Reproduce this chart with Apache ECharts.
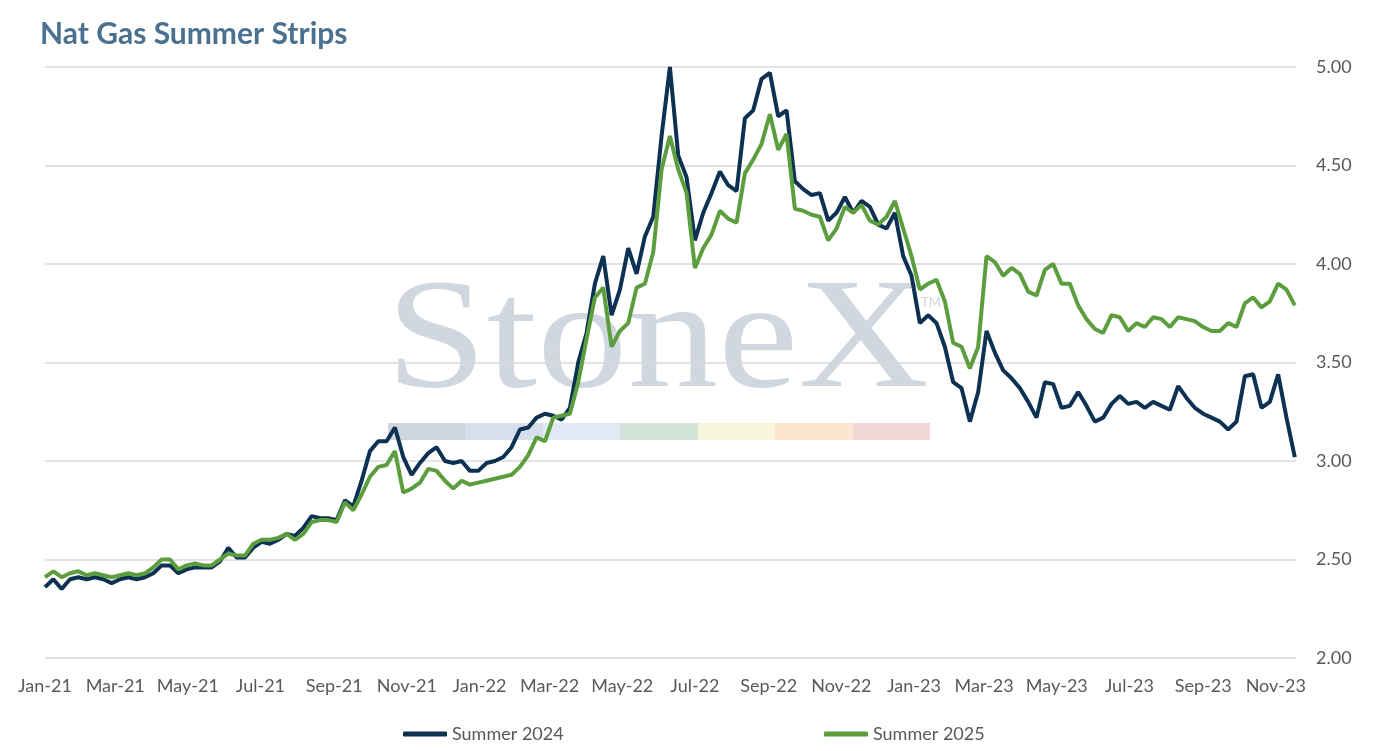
<!DOCTYPE html>
<html>
<head>
<meta charset="utf-8">
<title>Nat Gas Summer Strips</title>
<script src="https://cdn.jsdelivr.net/npm/echarts@6/dist/echarts.min.js"></script>
<style>
  html, body { margin: 0; padding: 0; background: #fff; }
  #chart { width: 1380px; height: 751px; }
</style>
</head>
<body>
<div id="chart"></div>
<script>
// weekly closes, first point 2021-01-01, one value per week
var startDate = [2021, 0, 1];
var endDate = [2023, 10, 18];

var summer2024 = [
  2.36, 2.40, 2.35, 2.40, 2.41, 2.40, 2.41, 2.40, 2.38, 2.40,
  2.41, 2.40, 2.41, 2.43, 2.47, 2.47, 2.43, 2.45, 2.46, 2.46,
  2.46, 2.49, 2.56, 2.51, 2.51, 2.56, 2.59, 2.58, 2.60, 2.63,
  2.62, 2.66, 2.72, 2.71, 2.71, 2.70, 2.80, 2.77, 2.90, 3.05,
  3.10, 3.10, 3.17, 3.02, 2.93, 2.99, 3.04, 3.07, 3.00, 2.99,
  3.00, 2.95, 2.95, 2.99, 3.00, 3.02, 3.07, 3.16, 3.17, 3.22,
  3.24, 3.23, 3.21, 3.27, 3.50, 3.65, 3.90, 4.04, 3.74, 3.87,
  4.08, 3.95, 4.14, 4.24, 4.65, 5.00, 4.55, 4.44, 4.12, 4.26,
  4.36, 4.47, 4.40, 4.37, 4.74, 4.78, 4.94, 4.97, 4.75, 4.78,
  4.42, 4.38, 4.35, 4.36, 4.22, 4.26, 4.34, 4.26, 4.32, 4.29,
  4.20, 4.18, 4.26, 4.04, 3.94, 3.70, 3.74, 3.70, 3.58, 3.40,
  3.37, 3.20, 3.35, 3.66, 3.55, 3.46, 3.42, 3.37, 3.30, 3.22,
  3.40, 3.39, 3.27, 3.28, 3.35, 3.28, 3.20, 3.22, 3.29, 3.33,
  3.29, 3.30, 3.27, 3.30, 3.28, 3.26, 3.38, 3.32, 3.27, 3.24,
  3.22, 3.20, 3.16, 3.20, 3.43, 3.44, 3.27, 3.30, 3.44, 3.22,
  3.02
];

var summer2025 = [
  2.41, 2.44, 2.41, 2.43, 2.44, 2.42, 2.43, 2.42, 2.41, 2.42,
  2.43, 2.42, 2.43, 2.46, 2.50, 2.50, 2.45, 2.47, 2.48, 2.47,
  2.47, 2.50, 2.53, 2.52, 2.52, 2.58, 2.60, 2.60, 2.61, 2.63,
  2.60, 2.63, 2.69, 2.70, 2.70, 2.69, 2.79, 2.75, 2.83, 2.92,
  2.97, 2.98, 3.05, 2.84, 2.86, 2.89, 2.96, 2.95, 2.90, 2.86,
  2.90, 2.88, 2.89, 2.90, 2.91, 2.92, 2.93, 2.97, 3.03, 3.12,
  3.10, 3.22, 3.23, 3.24, 3.40, 3.62, 3.83, 3.88, 3.58, 3.66,
  3.70, 3.88, 3.90, 4.06, 4.48, 4.65, 4.48, 4.36, 3.98, 4.08,
  4.15, 4.27, 4.23, 4.21, 4.46, 4.53, 4.61, 4.76, 4.58, 4.66,
  4.28, 4.27, 4.25, 4.24, 4.12, 4.18, 4.29, 4.26, 4.30, 4.22,
  4.20, 4.24, 4.32, 4.18, 4.04, 3.87, 3.90, 3.92, 3.81, 3.60,
  3.58, 3.47, 3.58, 4.04, 4.01, 3.94, 3.98, 3.95, 3.86, 3.84,
  3.97, 4.00, 3.90, 3.90, 3.79, 3.72, 3.67, 3.65, 3.74, 3.73,
  3.66, 3.70, 3.68, 3.73, 3.72, 3.68, 3.73, 3.72, 3.71, 3.68,
  3.66, 3.66, 3.70, 3.68, 3.80, 3.83, 3.78, 3.81, 3.90, 3.87,
  3.79
];

// x axis labels: first day of every other month
var labelMonths = [
  [2021, 0], [2021, 2], [2021, 4], [2021, 6], [2021, 8], [2021, 10],
  [2022, 0], [2022, 2], [2022, 4], [2022, 6], [2022, 8], [2022, 10],
  [2023, 0], [2023, 2], [2023, 4], [2023, 6], [2023, 8], [2023, 10]
];
var monthNames = ['Jan', 'Feb', 'Mar', 'Apr', 'May', 'Jun', 'Jul', 'Aug', 'Sep', 'Oct', 'Nov', 'Dec'];
var yTicks = [2.0, 2.5, 3.0, 3.5, 4.0, 4.5, 5.0];

var weekDates = summer2024.map(function (v, i) {
  return new Date(startDate[0], startDate[1], startDate[2] + 7 * i).getTime();
});
var labelValues = labelMonths.map(function (m) { return new Date(m[0], m[1], 1).getTime(); });

var axisFont = { color: '#595959', fontSize: 18, fontFamily: 'Lato' };
var wmColor = '#d1d7df';

var chart = echarts.init(document.getElementById('chart'));

chart.setOption({
  backgroundColor: '#ffffff',
  animation: false,
  title: {
    text: 'Nat Gas Summer Strips',
    left: 35,
    top: 14,
    textStyle: { color: '#4a7190', fontSize: 30, fontWeight: 'bold', fontFamily: 'Lato' }
  },
  legend: [
    {
      left: 398, top: 720,
      data: [{ name: 'Summer 2024', icon: 'roundRect' }],
      itemWidth: 44, itemHeight: 5,
      textStyle: axisFont
    },
    {
      left: 819, top: 720,
      data: [{ name: 'Summer 2025', icon: 'roundRect' }],
      itemWidth: 44, itemHeight: 5,
      textStyle: axisFont
    }
  ],
  grid: { left: 45, right: 84, top: 67, bottom: 93 },
  xAxis: {
    // dates as timestamps on a value scale so labels can sit on month starts
    type: 'value',
    min: new Date(startDate[0], startDate[1], startDate[2]).getTime(),
    max: new Date(endDate[0], endDate[1], endDate[2]).getTime(),
    axisLine: { show: false },
    axisTick: { show: false },
    splitLine: { show: false },
    axisLabel: Object.assign({
      customValues: labelValues,
      margin: 19,
      formatter: function (v) {
        var d = new Date(v);
        return monthNames[d.getMonth()] + '-' + String(d.getFullYear()).slice(2);
      }
    }, axisFont)
  },
  yAxis: {
    type: 'value',
    position: 'right',
    min: yTicks[0],
    max: yTicks[yTicks.length - 1],
    interval: 0.5,
    axisLine: { show: false },
    axisTick: { show: false },
    splitLine: { lineStyle: { color: '#d9d9d9', width: 1.5 } },
    axisLabel: Object.assign({
      margin: 20,
      formatter: function (v) { return v.toFixed(2); }
    }, axisFont)
  },
  graphic: [
    {
      type: 'text', z: -1, x: 386, y: 345, scaleX: 1.16,
      style: { text: 'StoneX', x: 0, y: 0, fill: wmColor, font: '156px "Liberation Serif"', align: 'left', verticalAlign: 'middle' }
    },
    {
      type: 'text', z: -1, x: 921, y: 303,
      style: { text: 'TM', fill: wmColor, font: '13px Lato', align: 'left', verticalAlign: 'middle' }
    },
    { type: 'rect', z: -1, shape: { x: 388, y: 423, width: 78, height: 17 }, style: { fill: '#d0d6de' } },
    { type: 'rect', z: -1, shape: { x: 465, y: 423, width: 78, height: 17 }, style: { fill: '#d7e0ea' } },
    { type: 'rect', z: -1, shape: { x: 543, y: 423, width: 78, height: 17 }, style: { fill: '#dfeaf4' } },
    { type: 'rect', z: -1, shape: { x: 620, y: 423, width: 78, height: 17 }, style: { fill: '#d4e3da' } },
    { type: 'rect', z: -1, shape: { x: 698, y: 423, width: 78, height: 17 }, style: { fill: '#f7f6dd' } },
    { type: 'rect', z: -1, shape: { x: 775, y: 423, width: 78, height: 17 }, style: { fill: '#fbe7d0' } },
    { type: 'rect', z: -1, shape: { x: 853, y: 423, width: 77, height: 17 }, style: { fill: '#f2d5d5' } }
  ],
  series: [
    {
      name: 'Summer 2024',
      type: 'line',
      showSymbol: false,
      color: '#0d3152',
      lineStyle: { width: 4, color: '#0d3152' },
      data: weekDates.map(function (t, i) { return [t, summer2024[i]]; })
    },
    {
      name: 'Summer 2025',
      type: 'line',
      showSymbol: false,
      color: '#5c9e3e',
      lineStyle: { width: 4, color: '#5c9e3e' },
      data: weekDates.map(function (t, i) { return [t, summer2025[i]]; })
    }
  ]
});

window.addEventListener('resize', function () {
  if (chart) chart.resize();
});
</script>
</body>
</html>
